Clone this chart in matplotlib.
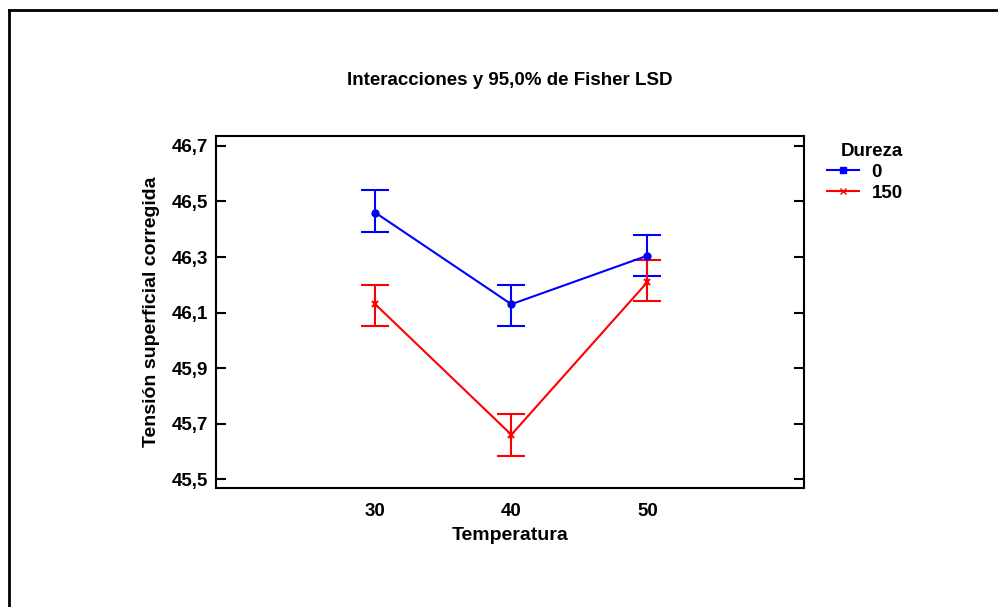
import matplotlib.pyplot as plt
from matplotlib.lines import Line2D
import numpy as np

plt.rcParams['font.family'] = ['Liberation Sans', 'DejaVu Sans']
plt.rcParams['font.weight'] = 'bold'

# Datos
temperatura = [30, 40, 50]
dureza_0 = [46.46, 46.13, 46.305]
dureza_0_lo = [46.39, 46.05, 46.23]
dureza_0_hi = [46.54, 46.20, 46.38]
dureza_150 = [46.13, 45.66, 46.21]
dureza_150_lo = [46.05, 45.585, 46.14]
dureza_150_hi = [46.20, 45.735, 46.29]
yticks = [45.5, 45.7, 45.9, 46.1, 46.3, 46.5, 46.7]

fig = plt.figure(figsize=(9.98, 6.07), dpi=100)
ax = fig.add_axes([0.2164, 0.196, 0.5892, 0.580])

m0 = np.array(dureza_0)
err0 = [m0 - np.array(dureza_0_lo), np.array(dureza_0_hi) - m0]
m150 = np.array(dureza_150)
err150 = [m150 - np.array(dureza_150_lo), np.array(dureza_150_hi) - m150]

ax.errorbar(temperatura, dureza_0, yerr=err0, color="blue", lw=1.5, capsize=10,
            capthick=1.5, marker="o", markersize=5, label="0")
ax.errorbar(temperatura, dureza_150, yerr=err150, color="red", lw=1.5, capsize=10,
            capthick=1.5, marker="x", markersize=5, markeredgewidth=1.5, label="150")

ax.set_xlim(18.3, 61.5)
ax.set_ylim(45.468, 46.736)
ax.set_xticks(temperatura)
ax.set_xticklabels([str(t) for t in temperatura])
ax.set_yticks(yticks)
ax.set_yticklabels([f"{v:.1f}".replace(".", ",") for v in yticks])
ax.tick_params(axis="y", direction="in", length=7, width=1.5, right=True,
               labelsize=13.5, pad=6)
ax.tick_params(axis="x", length=0, labelsize=13.5, pad=11)
for s in ax.spines.values():
    s.set_linewidth(1.5)

ax.set_title("Interacciones y 95,0% de Fisher LSD", fontsize=13.5, fontweight="bold", pad=37)
ax.set_xlabel("Temperatura", fontsize=14, fontweight="bold", labelpad=5)
ax.set_ylabel("Tensión superficial corregida", fontsize=14, fontweight="bold", labelpad=8)

h0 = Line2D([], [], color="blue", lw=1.5, marker="s", markersize=4)
h150 = Line2D([], [], color="red", lw=1.5, marker="x", markersize=5)
leg = fig.legend([h0, h150], ["0", "150"], title="Dureza", loc="upper left",
                 bbox_to_anchor=(0.819, 0.78), frameon=False, fontsize=13.5,
                 title_fontsize=13.5, handlelength=1.7, handletextpad=0.7,
                 borderpad=0, labelspacing=0.2, alignment="right")
leg.get_title().set_fontweight("bold")

# marco exterior
fig.add_artist(Line2D([0.0095, 0.0095], [0.0, 0.984], color="black", lw=2))
fig.add_artist(Line2D([0.0095, 1.0], [0.984, 0.984], color="black", lw=2))

fig.savefig("out.png", dpi=100)
